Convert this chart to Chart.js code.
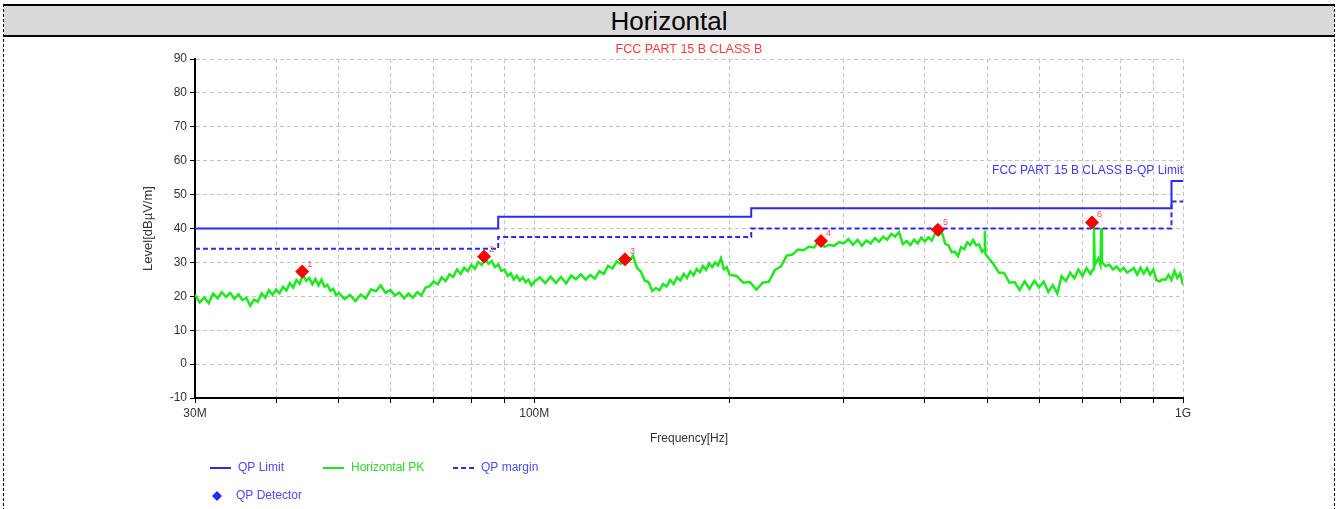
<!DOCTYPE html>
<html>
<head>
<meta charset="utf-8">
<title>Horizontal</title>
<script src="https://cdn.jsdelivr.net/npm/chart.js@4.4.0/dist/chart.umd.min.js"></script>
<style>
  body { margin: 0; background: #fff; }
  #frame { position: absolute; left: 3px; top: 4px; width: 1330px; height: 520px;
    border-left: 1px dashed #000; border-right: 1px dashed #000; border-top: 2px solid #000; }
  #head { position: absolute; left: 4px; top: 6px; width: 1330px; height: 29px; background: #d9d9d9;
    border-bottom: 2px solid #000; text-align: center; color: #000;
    font: 26px 'Liberation Sans', Arial, sans-serif; line-height: 30px; }
  #wrap { position: absolute; left: 0; top: 37px; width: 1338px; height: 472px; }
</style>
</head>
<body>
<div id="frame"></div>
<div id="head">Horizontal</div>
<div id="wrap"><canvas id="myChart"></canvas></div>
<script>
// texts
const chartTitle = 'FCC PART 15 B CLASS B';
const limitName = 'FCC PART 15 B CLASS B-QP Limit';

// axis ticks
const xTicks = [30, 40, 50, 60, 70, 80, 90, 100, 200, 300, 400, 500, 600, 700, 800, 900, 1000];
const xTickLabels = ['30M', '', '', '', '', '', '', '100M', '', '', '', '', '', '', '', '', '1G'];
const yTicks = [-10, 0, 10, 20, 30, 40, 50, 60, 70, 80, 90];

// QP limit and margin (MHz / dBuV/m)
const limitFreq = [30, 88, 216, 960, 1000];
const limitLevel = [40, 43.5, 46, 54, 54];
const marginLevel = [34, 37.5, 40, 48, 48];

// QP detector readings
const qpFreq = [43.9, 83.7, 138, 276.7, 419, 724];
const qpLevel = [27.3, 31.7, 30.9, 36.3, 39.6, 41.8];

// peak sweep
const pkFreq = [
  30, 30.5, 31, 31.5, 32, 32.5, 33, 33.5, 34, 34.5, 35, 35.5, 36, 36.5, 37, 37.5, 38, 38.5, 39, 39.5,
  40, 40.5, 41, 41.5, 42, 42.5, 43, 43.5, 44, 44.5, 45, 45.5, 46, 46.5, 47, 47.5, 48, 48.5, 49, 49.5, 50,
  51, 52, 53, 54, 55, 56, 57, 58, 59, 60, 61, 62, 63, 64, 65, 66, 67, 68, 69, 70,
  71, 72, 73, 74, 75, 76, 77, 78, 79, 80, 81, 82, 83, 84, 85, 86, 87, 88, 89, 90,
  91, 92, 93, 94, 95, 96, 97, 98, 99, 100,
  102, 104, 106, 108, 110, 112, 114, 116, 118, 120, 122, 124, 126, 128, 130, 132, 134, 136, 138, 140,
  142, 144, 146, 148, 150, 152, 154, 156, 158, 160, 162, 164, 166, 168, 170, 172, 174, 176, 178, 180,
  182, 184, 186, 188, 190, 192, 194, 196, 198, 200,
  205, 210, 215, 220, 225, 230, 235, 240, 245, 250, 255, 260, 265, 270, 275, 280, 285, 290, 295, 300,
  305, 310, 315, 320, 325, 330, 335, 340, 345, 350, 355, 360, 365, 370, 375, 380, 385, 390, 395, 400,
  405, 410, 415, 420, 425, 430, 435, 440, 445, 450, 455, 460, 465, 470, 475, 480, 485, 490, 494, 495, 496, 500,
  510, 520, 530, 540, 550, 560, 570, 580, 590, 600, 610, 620, 630, 640, 650, 660, 670, 680, 690, 700,
  710, 720, 727, 729, 731, 740, 746, 748, 750,
  760, 770, 780, 790, 800, 810, 820, 830, 840, 850, 860, 870, 880, 890, 900,
  910, 920, 930, 940, 950, 960, 970, 980, 990, 1000
];
const pkLevel = [
  20.5, 18.2, 19.6, 18.0, 20.8, 19.4, 21.2, 19.8, 21.0, 19.2, 20.6, 18.9, 19.5, 17.2, 19.0, 18.4, 20.9, 19.6, 21.8, 20.4,
  22.0, 20.9, 22.8, 21.7, 23.9, 22.6, 24.8, 23.7, 26.3, 24.6, 25.4, 23.6, 25.1, 23.2, 24.9, 22.8, 23.4, 21.6, 22.2, 20.3, 21.0,
  19.2, 20.4, 18.6, 20.5, 19.4, 22.0, 21.5, 23.2, 21.0, 21.9, 20.2, 21.1, 19.4, 20.8, 19.6, 21.2, 20.3, 22.6, 23.0, 24.4,
  23.5, 25.6, 24.5, 26.5, 25.7, 27.9, 26.6, 28.4, 27.4, 29.2, 28.1, 30.1, 29.3, 31.0, 29.6, 30.4, 28.6, 29.4, 27.5, 27.9,
  26.0, 26.8, 25.0, 26.1, 24.6, 25.6, 24.2, 24.9, 23.2, 24.3,
  25.6, 23.9, 25.8, 24.0, 25.7, 23.8, 26.1, 25.0, 26.5, 24.9, 26.3, 25.2, 27.4, 26.6, 29.0, 28.2, 30.3, 29.6, 31.8, 30.4,
  32.0, 28.4, 27.3, 24.6, 24.2, 21.6, 22.4, 21.8, 23.6, 22.9, 24.8, 23.6, 25.6, 24.7, 26.6, 25.4, 27.3, 26.2, 28.0, 27.1,
  28.9, 27.8, 29.7, 28.6, 30.0, 29.1, 31.2, 28.0, 28.6, 26.4,
  26.0, 24.0, 24.2, 22.0, 24.0, 24.3, 27.8, 28.8, 32.0, 32.3, 33.8, 33.6, 34.6, 34.4, 36.4, 34.6, 35.2, 34.9, 36.0, 35.6,
  36.9, 35.2, 36.6, 34.9, 36.5, 35.6, 37.2, 36.1, 37.6, 36.7, 38.4, 37.6, 38.9, 35.4, 36.3, 35.1, 36.7, 35.6, 37.3, 36.2,
  37.4, 36.4, 38.6, 38.0, 38.9, 35.5, 35.0, 33.0, 33.2, 31.9, 34.5, 33.9, 35.9, 35.1, 36.6, 35.0, 35.3, 33.1, 33.8, 39.3, 32.5, 31.6,
  29.6, 27.0, 26.9, 24.0, 24.2, 21.9, 24.4, 22.2, 24.6, 22.6, 24.3, 21.3, 23.3, 20.8, 25.9, 24.5, 27.0, 25.3, 27.9, 26.0,
  28.3, 26.6, 28.0, 40.6, 29.2, 31.2, 29.3, 40.1, 30.0,
  28.9, 29.3, 27.9, 28.8, 27.5, 28.4, 27.0, 27.6, 28.3, 26.4, 28.4, 26.7, 28.3, 26.4, 27.9,
  24.8, 24.4, 25.0, 24.9, 26.3, 24.8, 27.5, 25.4, 26.7, 23.4
];

const FONT = "'Liberation Sans Narrow', 'Arial Narrow', 'Liberation Sans', Arial, sans-serif";
const blue = '#2b2bee';
const green = '#1ee81e';

Chart.defaults.font.family = FONT;
Chart.defaults.font.size = 12;
Chart.defaults.color = '#333';

function pts(xs, ys) {
  return xs.map((x, i) => ({ x: x, y: ys[i] }));
}

// red title, limit name and marker numbers
const annotate = {
  id: 'annotate',
  afterDatasetsDraw(chart) {
    const { ctx, chartArea, scales: { x, y } } = chart;
    ctx.save();
    ctx.font = '12.5px ' + FONT;
    ctx.fillStyle = '#ff3b3b';
    ctx.textAlign = 'center';
    ctx.textBaseline = 'middle';
    ctx.fillText(chartTitle, (chartArea.left + chartArea.right) / 2, chartArea.top - 9);

    ctx.font = '12px ' + FONT;
    ctx.fillStyle = '#3a3aff';
    ctx.textAlign = 'right';
    ctx.textBaseline = 'bottom';
    ctx.fillText(limitName, chartArea.right, y.getPixelForValue(limitLevel[limitLevel.length - 1]) - 4);

    ctx.font = '9px ' + FONT;
    ctx.fillStyle = '#ff4d4d';
    ctx.textAlign = 'left';
    qpFreq.forEach((f, i) => {
      ctx.fillText(String(i + 1), x.getPixelForValue(f) + 5, y.getPixelForValue(qpLevel[i]) - 3);
    });
    ctx.restore();
  }
};

// legend under the plot, laid out like the original report
const bottomLegend = {
  id: 'bottomLegend',
  afterDraw(chart) {
    const ctx = chart.ctx;
    const ds = chart.data.datasets;
    const items = [
      { i: 1, x: 210, y: 431 },
      { i: 3, x: 323, y: 431 },
      { i: 2, x: 453, y: 431 },
      { i: 0, x: 210, y: 459 }
    ];
    ctx.save();
    ctx.font = '12px ' + FONT;
    ctx.textBaseline = 'middle';
    items.forEach(it => {
      const d = ds[it.i];
      if (it.i === 0) {
        ctx.fillStyle = blue;
        ctx.beginPath();
        ctx.moveTo(it.x + 7, it.y - 5);
        ctx.lineTo(it.x + 12, it.y);
        ctx.lineTo(it.x + 7, it.y + 5);
        ctx.lineTo(it.x + 2, it.y);
        ctx.closePath();
        ctx.fill();
        ctx.fillStyle = '#4a4aff';
        ctx.fillText(d.label, it.x + 26, it.y);
        return;
      }
      ctx.strokeStyle = d.borderColor;
      ctx.lineWidth = 2;
      ctx.setLineDash(d.borderDash || []);
      ctx.beginPath();
      ctx.moveTo(it.x, it.y);
      ctx.lineTo(it.x + 21, it.y);
      ctx.stroke();
      ctx.setLineDash([]);
      ctx.fillStyle = it.i === 3 ? '#2ed82e' : '#4a4aff';
      ctx.fillText(d.label, it.x + 28, it.y);
    });
    ctx.restore();
  }
};

var ctx = document.getElementById('myChart').getContext('2d');
var myChart = new Chart(ctx, {
  type: 'line',
  data: {
    datasets: [
      {
        label: 'QP Detector',
        data: pts(qpFreq, qpLevel),
        showLine: false,
        pointStyle: 'rectRot',
        pointRadius: 6.5,
        pointBackgroundColor: '#ff0000',
        pointBorderColor: '#ff0000',
        order: 0
      },
      {
        label: 'QP Limit',
        data: pts(limitFreq, limitLevel),
        stepped: 'before',
        borderColor: blue,
        borderWidth: 2,
        pointRadius: 0,
        order: 1
      },
      {
        label: 'QP margin',
        data: pts(limitFreq, marginLevel),
        stepped: 'before',
        borderColor: blue,
        borderDash: [5, 3],
        borderWidth: 2,
        pointRadius: 0,
        order: 2
      },
      {
        label: 'Horizontal PK',
        data: pts(pkFreq, pkLevel),
        borderColor: green,
        borderWidth: 2.5,
        pointRadius: 0,
        tension: 0,
        order: 3
      }
    ]
  },
  options: {
    responsive: true,
    maintainAspectRatio: false,
    animation: false,
    layout: { padding: { left: 137, right: 155, top: 22, bottom: 59 } },
    plugins: {
      legend: { display: false },
      tooltip: { enabled: false }
    },
    scales: {
      x: {
        type: 'logarithmic',
        min: 30,
        max: 1000,
        afterBuildTicks: s => { s.ticks = xTicks.map(v => ({ value: v })); },
        afterFit: s => { s.height = 52; },
        ticks: {
          autoSkip: false,
          maxRotation: 0,
          padding: 3,
          color: '#333',
          callback: v => xTickLabels[xTicks.indexOf(v)]
        },
        grid: { color: '#c4c4c4', tickColor: '#000', tickLength: 5 },
        border: { color: '#000', width: 2, dash: [4, 3] },
        title: { display: true, text: 'Frequency[Hz]', color: '#333', font: { size: 12 } }
      },
      y: {
        min: -10,
        max: 90,
        afterBuildTicks: s => { s.ticks = yTicks.map(v => ({ value: v })); },
        afterFit: s => { s.width = 58; },
        ticks: { padding: 3, color: '#333' },
        grid: { color: '#c4c4c4', tickColor: '#000', tickLength: 5 },
        border: { color: '#000', width: 2, dash: [4, 3] },
        title: { display: true, text: 'Level[dBµV/m]', color: '#333', font: { size: 13 } }
      }
    }
  },
  plugins: [annotate, bottomLegend]
});
</script>
</body>
</html>
